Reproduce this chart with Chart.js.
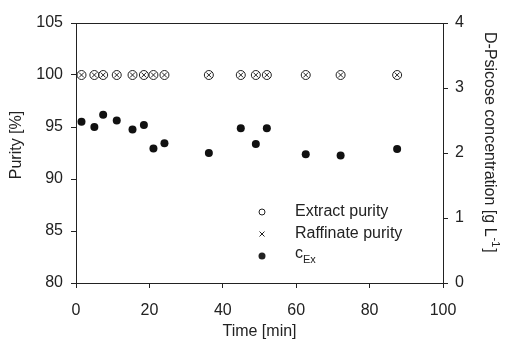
<!DOCTYPE html>
<html>
<head>
<meta charset="utf-8">
<script src="https://cdn.jsdelivr.net/npm/chart.js@4.4.1/dist/chart.umd.min.js"></script>
<style>
  html, body { margin: 0; padding: 0; background: #fff; }
  #wrap { width: 506px; height: 343px; }
</style>
</head>
<body>
<div id="wrap"><canvas id="chart" width="506" height="343"></canvas></div>
<script>
// sampling times [min]
const times = [1.5, 5.0, 7.4, 11.1, 15.4, 18.5, 21.1, 24.1, 36.2, 44.9, 49.0, 52.0, 62.6, 72.1, 87.5];
// purities [%]
const extractPurity = [100, 100, 100, 100, 100, 100, 100, 100, 100, 100, 100, 100, 100, 100, 100];
const raffinatePurity = [100, 100, 100, 100, 100, 100, 100, 100, 100, 100, 100, 100, 100, 100, 100];
// D-psicose concentration in extract [g/L]
const cEx = [2.48, 2.40, 2.59, 2.50, 2.36, 2.43, 2.07, 2.15, 2.00, 2.38, 2.14, 2.38, 1.98, 1.96, 2.06];

const xTicks = [0, 20, 40, 60, 80, 100];
const purityTicks = [80, 85, 90, 95, 100, 105];
const concTicks = [0, 1, 2, 3, 4];

const ink = '#222';
const font = { family: 'Liberation Sans, Arial, sans-serif', size: 16 };

function pts(ys) {
  return times.map((t, i) => ({ x: t, y: ys[i] }));
}

// titles, legend and top border drawn by hand (subscripts / superscripts)
const decor = {
  id: 'decor',
  afterDraw(chart) {
    const ctx = chart.ctx;
    const a = chart.chartArea;
    ctx.save();
    ctx.strokeStyle = ink;
    ctx.lineWidth = 1;
    ctx.beginPath();
    ctx.moveTo(a.left, a.top + 0.5);
    ctx.lineTo(a.right, a.top + 0.5);
    ctx.stroke();

    ctx.fillStyle = ink;
    ctx.font = '16px ' + font.family;
    ctx.textAlign = 'center';
    ctx.textBaseline = 'middle';
    ctx.fillText('Time [min]', (a.left + a.right) / 2, 332);

    // left title
    ctx.save();
    ctx.translate(17, 145);
    ctx.rotate(-Math.PI / 2);
    ctx.fillText('Purity [%]', 0, 0);
    ctx.restore();

    // right title, reading downward
    ctx.save();
    ctx.translate(489, 32);
    ctx.rotate(Math.PI / 2);
    ctx.textAlign = 'left';
    const main = 'D-Psicose concentration [g L';
    ctx.fillText(main, 0, 0);
    let w = ctx.measureText(main).width;
    ctx.font = '11px ' + font.family;
    ctx.fillText('-1', w + 1, -6);
    w += ctx.measureText('-1').width + 1;
    ctx.font = '16px ' + font.family;
    ctx.fillText(']', w + 1, 0);
    ctx.restore();

    // legend
    const mx = 262, tx = 295;
    const rows = [212, 234, 256];
    ctx.textAlign = 'left';
    ctx.lineWidth = 1;
    ctx.beginPath();
    ctx.arc(mx, rows[0], 3, 0, Math.PI * 2);
    ctx.stroke();
    ctx.beginPath();
    ctx.moveTo(mx - 2.5, rows[1] - 2.5); ctx.lineTo(mx + 2.5, rows[1] + 2.5);
    ctx.moveTo(mx + 2.5, rows[1] - 2.5); ctx.lineTo(mx - 2.5, rows[1] + 2.5);
    ctx.stroke();
    ctx.beginPath();
    ctx.arc(mx, rows[2], 3.5, 0, Math.PI * 2);
    ctx.fill();
    ctx.fillText('Extract purity', tx, rows[0]);
    ctx.fillText('Raffinate purity', tx, rows[1]);
    ctx.fillText('c', tx, rows[2] - 2);
    const cw = ctx.measureText('c').width;
    ctx.font = '11px ' + font.family;
    ctx.fillText('Ex', tx + cw, rows[2] + 4);
    ctx.restore();
  }
};

new Chart(document.getElementById('chart'), {
  type: 'scatter',
  data: {
    datasets: [
      {
        label: 'Extract purity',
        data: pts(extractPurity),
        yAxisID: 'y',
        pointStyle: 'circle',
        pointRadius: 4.5,
        borderWidth: 1,
        borderColor: ink,
        backgroundColor: 'rgba(0,0,0,0)'
      },
      {
        label: 'Raffinate purity',
        data: pts(raffinatePurity),
        yAxisID: 'y',
        pointStyle: 'crossRot',
        pointRadius: 3.5,
        borderWidth: 1,
        borderColor: ink
      },
      {
        label: 'cEx',
        data: pts(cEx),
        yAxisID: 'y1',
        pointStyle: 'circle',
        pointRadius: 4,
        borderWidth: 0,
        backgroundColor: '#111'
      }
    ]
  },
  options: {
    responsive: false,
    animation: false,
    layout: { padding: { top: 23, left: 0, right: 0, bottom: 0 } },
    plugins: {
      legend: { display: false },
      tooltip: { enabled: false }
    },
    scales: {
      x: {
        type: 'linear',
        min: 0, max: 100,
        afterBuildTicks: s => { s.ticks = xTicks.map(v => ({ value: v })); },
        afterFit: s => { s.height = 60; },
        grid: { drawOnChartArea: false, drawTicks: true, tickLength: 5, color: ink },
        border: { color: ink },
        ticks: { color: ink, font, padding: 13, maxRotation: 0 }
      },
      y: {
        position: 'left',
        min: 80, max: 105,
        afterBuildTicks: s => { s.ticks = purityTicks.map(v => ({ value: v })); },
        afterFit: s => { s.width = 76; },
        grid: { drawOnChartArea: false, drawTicks: true, tickLength: 5, color: ink },
        border: { color: ink },
        ticks: { color: ink, font, padding: 8 }
      },
      y1: {
        position: 'right',
        min: 0, max: 4,
        afterBuildTicks: s => { s.ticks = concTicks.map(v => ({ value: v })); },
        afterFit: s => { s.width = 63; },
        grid: { drawOnChartArea: false, drawTicks: true, tickLength: 5, color: ink },
        border: { color: ink },
        ticks: { color: ink, font, padding: 7 }
      }
    }
  },
  plugins: [decor]
});
</script>
</body>
</html>
